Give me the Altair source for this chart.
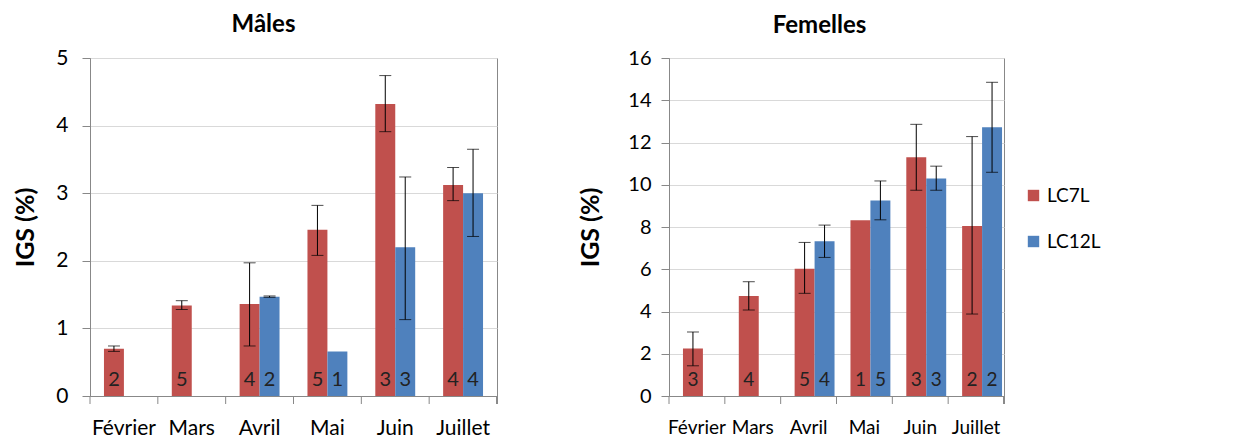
import altair as alt
import pandas as pd

months = ["Février", "Mars", "Avril", "Mai", "Juin", "Juillet"]
series = ["LC7L", "LC12L"]
colors = ["#C0504D", "#4F81BD"]

# Mâles
m_lc7 = [0.70, 1.34, 1.36, 2.46, 4.32, 3.12]
m_lc7_lo = [0.66, 1.28, 0.74, 2.08, 3.91, 2.89]
m_lc7_hi = [0.74, 1.41, 1.97, 2.82, 4.74, 3.38]
m_lc7_n = [2, 5, 4, 5, 3, 4]
m_lc12 = [None, None, 1.47, 0.66, 2.20, 3.00]
m_lc12_lo = [None, None, 1.46, None, 1.13, 2.36]
m_lc12_hi = [None, None, 1.48, None, 3.24, 3.65]
m_lc12_n = [None, None, 2, 1, 3, 4]

# Femelles
f_lc7 = [2.25, 4.73, 6.02, 8.32, 11.30, 8.05]
f_lc7_lo = [1.43, 4.07, 4.86, None, 9.74, 3.88]
f_lc7_hi = [3.03, 5.41, 7.27, None, 12.86, 12.28]
f_lc7_n = [3, 4, 5, 1, 3, 2]
f_lc12 = [None, None, 7.33, 9.25, 10.29, 12.72]
f_lc12_lo = [None, None, 6.56, 8.34, 9.74, 10.59]
f_lc12_hi = [None, None, 8.09, 10.18, 10.88, 14.85]
f_lc12_n = [None, None, 4, 5, 3, 2]

m_ticks = [0, 0.5, 1, 1.5, 2, 2.5, 3, 3.5, 4, 4.5, 5]
f_ticks = [0, 2, 4, 6, 8, 10, 12, 14, 16]

FONT = "Lato"


def frame(groups):
    rows = []
    for s, (v, lo, hi, n) in zip(series, groups):
        for i, mth in enumerate(months):
            if v[i] is None:
                continue
            rows.append(dict(month=mth, series=s, value=v[i], lo=lo[i], hi=hi[i], n=n[i]))
    return pd.DataFrame(rows)


df_m = frame([(m_lc7, m_lc7_lo, m_lc7_hi, m_lc7_n), (m_lc12, m_lc12_lo, m_lc12_hi, m_lc12_n)])
df_f = frame([(f_lc7, f_lc7_lo, f_lc7_hi, f_lc7_n), (f_lc12, f_lc12_lo, f_lc12_hi, f_lc12_n)])
df_months = pd.DataFrame({"month": months})


def panel(df, W, H, ymax, tvals, title, title_dx, legend, label_expr, ytp, ylp,
          xfs, yfs, nfs, xlp):
    xscale = alt.Scale(domain=months, paddingInner=0, paddingOuter=0)
    xaxis = alt.Axis(title=None, ticks=False, labelPadding=xlp, labelAngle=0,
                     domainColor="#888", labelFontSize=xfs, labelColor="#000", labelFont=FONT)
    x = alt.X("month:N", sort=months, scale=xscale, axis=xaxis)
    xo = alt.XOffset("series:N", sort=series,
                     scale=alt.Scale(domain=series, paddingInner=0, paddingOuter=0.7))
    yscale = alt.Scale(domain=[0, ymax], nice=False)
    yaxis = alt.Axis(title="IGS (%)", values=tvals, labelExpr=label_expr, tickSize=8,
                     tickColor="#888", domainColor="#888", labelFontSize=yfs, labelColor="#000",
                     labelFont=FONT, labelPadding=ylp, titleFont=FONT, titleFontSize=25,
                     titleFontWeight="bold", titleColor="#000", titlePadding=ytp,
                     gridColor="#d9d9d9")
    color = alt.Color("series:N", scale=alt.Scale(domain=series, range=colors), legend=legend)

    base = alt.Chart(df)
    bars = base.mark_bar().encode(x=x, xOffset=xo, y=alt.Y("value:Q", scale=yscale, axis=yaxis),
                                  color=color)
    errs = base.transform_filter("isValid(datum.lo)")
    rule = errs.mark_rule(color="black", strokeWidth=1).encode(
        x=x, xOffset=xo, y=alt.Y("lo:Q", title="IGS (%)"), y2="hi:Q")
    cap_lo = errs.mark_tick(color="black", thickness=1, size=12).encode(
        x=x, xOffset=xo, y=alt.Y("lo:Q", title="IGS (%)"))
    cap_hi = errs.mark_tick(color="black", thickness=1, size=12).encode(
        x=x, xOffset=xo, y=alt.Y("hi:Q", title="IGS (%)"))
    counts = base.mark_text(font=FONT, fontSize=nfs, color="#222", baseline="middle", dy=-16).encode(
        x=x, xOffset=xo, y=alt.datum(0), text="n:Q")
    xt = alt.Chart(df_months).mark_rule(color="#888").encode(
        x=alt.X("month:N", sort=months, scale=xscale, axis=xaxis, bandPosition=0),
        y=alt.value(H), y2=alt.value(H + 8))
    xt_end = alt.Chart(df_months).mark_rule(color="#888").encode(
        x=alt.value(W), y=alt.value(H), y2=alt.value(H + 8))

    return alt.layer(bars, rule, cap_lo, cap_hi, counts, xt, xt_end).properties(
        width=W, height=H,
        title=alt.TitleParams(title, font=FONT, fontSize=24, fontWeight="bold", color="#000",
                              anchor="middle", offset=10, dx=title_dx))


left = panel(df_m, 407, 338, 5, m_ticks, "Mâles", -30, None,
             "datum.value % 1 == 0 ? format(datum.value, 'd') : ''", 17, 14,
             21, 21, 20, 21)
right = panel(df_f, 335, 338, 16, f_ticks, "Femelles", -17,
              alt.Legend(title=None, orient="none", legendX=355, legendY=128, symbolType="square",
                         symbolSize=130, symbolStrokeWidth=0, labelFontSize=19, labelFont=FONT,
                         labelColor="#000", rowPadding=26),
              "datum.label", 24, 10,
              19, 20, 19, 22)

chart = alt.hconcat(left, right, spacing=80).resolve_scale(
    y="independent", x="independent", color="shared").resolve_legend(color="independent").properties(
    padding={"left": 5, "top": 4, "right": 5, "bottom": 0}
).configure_view(stroke="#888", strokeWidth=1).configure_axis(gridColor="#d9d9d9")

chart.save("out.html", embed_options={"renderer": "svg", "actions": False})
